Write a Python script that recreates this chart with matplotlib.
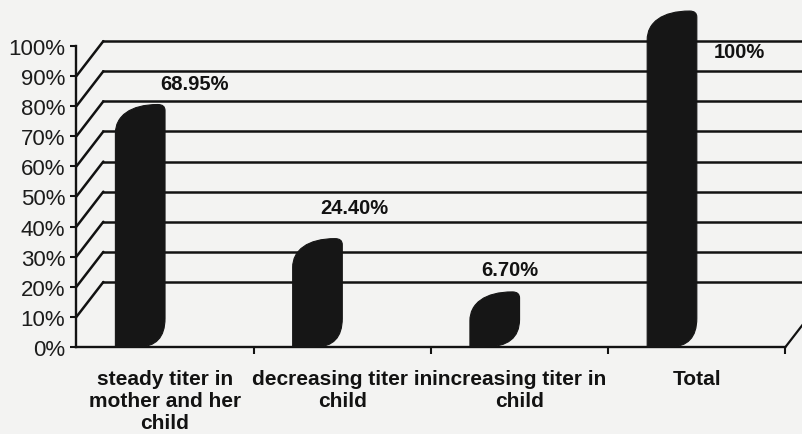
import matplotlib
matplotlib.use("Agg")
import matplotlib.pyplot as plt
from matplotlib.path import Path
from matplotlib.patches import PathPatch

# Data
categories = [
    "steady titer in\nmother and her\nchild",
    "decreasing titer in\nchild",
    "increasing titer in\nchild",
    "Total",
]
values = [68.95, 24.40, 6.70, 100.0]
value_labels = ["68.95%", "24.40%", "6.70%", "100%"]
y_ticks = list(range(0, 101, 10))
y_tick_labels = [f"{t}%" for t in y_ticks]

# Layout of the pseudo-3D frame (data units)
DX, DY = 0.152, 11.6          # depth offset of the back wall
BAR_W = 0.28                  # bar width
label_dx = [0.164, 0.066, -0.054, 0.238]
label_dy = [18.5, 21.8, 19.2, -2.0]

INK = "#121212"
BG = "#f3f3f2"

plt.rcParams["font.family"] = ["Liberation Sans", "DejaVu Sans"]

fig = plt.figure(figsize=(8.03, 4.35), dpi=100, facecolor=BG)
ax = fig.add_axes([0, 0, 1, 1], facecolor=BG)
ax.set_xlim(-0.931, 3.599)
ax.set_ylim(-28.9, 115.6)

# Side wall diagonals and back wall gridlines
for v in y_ticks[1:-1]:
    ax.plot([-0.5, -0.5 + DX], [v, v + DY], color=INK, lw=1.8,
            solid_capstyle="round", zorder=1)
    ax.plot([-0.5 + DX, 3.5 + DX], [v + DY, v + DY], color=INK, lw=1.8,
            zorder=1)
# right edge of the floor
ax.plot([3.5, 3.5 + DX], [0, DY], color=INK, lw=1.6, zorder=1)


def bar_path(x0, w, v):
    """Rounded column: top curving back to the rear wall, rounded bottom-right."""
    xr = x0 + w
    front = v + 2.0
    back = v + DY
    corner = min(9.5, back * 0.5)
    foot = x0 + w * (0.45 if v > 15 else 0.3)
    verts = [
        (x0, 0),
        (x0, front),
        (x0, front + (back - front) * 0.6), (x0 + w * 0.3, back), (xr - 0.04, back),
        (xr, back), (xr, back - 2.0),
        (xr, corner),
        (xr, 0), (foot, 0),
        (x0, 0),
    ]
    codes = [
        Path.MOVETO,
        Path.LINETO,
        Path.CURVE4, Path.CURVE4, Path.CURVE4,
        Path.CURVE3, Path.CURVE3,
        Path.LINETO,
        Path.CURVE3, Path.CURVE3,
        Path.CLOSEPOLY,
    ]
    return Path(verts, codes)


for i, v in enumerate(values):
    ax.add_patch(PathPatch(bar_path(i - BAR_W, BAR_W, v), facecolor="#161616",
                           edgecolor="#161616", lw=0.8, zorder=3))
    ax.text(i + label_dx[i], v + label_dy[i], value_labels[i], ha="center",
            va="center", fontsize=14.5, fontweight="bold", color=INK, zorder=4)

# Front value axis
for side in ("top", "right"):
    ax.spines[side].set_visible(False)
ax.spines["left"].set_position(("data", -0.5))
ax.spines["left"].set_bounds(0, 100)
ax.spines["bottom"].set_position(("data", 0))
ax.spines["bottom"].set_bounds(-0.5, 3.5)
for side in ("left", "bottom"):
    ax.spines[side].set_color(INK)
    ax.spines[side].set_linewidth(1.7)
    ax.spines[side].set_zorder(2)

ax.set_yticks(y_ticks)
ax.set_yticklabels(y_tick_labels)
ax.tick_params(axis="y", direction="out", length=4, width=1.5, color=INK,
               labelsize=16, labelcolor="#1c1c1c", pad=4)

ax.set_xticks([0.5, 1.5, 2.5, 3.5])
ax.set_xticklabels([""] * 4)
ax.set_xticks([0, 1, 2, 3], minor=True)
ax.set_xticklabels(categories, minor=True, fontweight="bold", fontsize=15,
                   linespacing=1.2)
ax.tick_params(axis="x", which="major", direction="out", length=5, width=1.5,
               color=INK)
ax.tick_params(axis="x", which="minor", length=0, pad=16, labelcolor=INK)

fig.savefig("out.png", dpi=100, facecolor=BG)
